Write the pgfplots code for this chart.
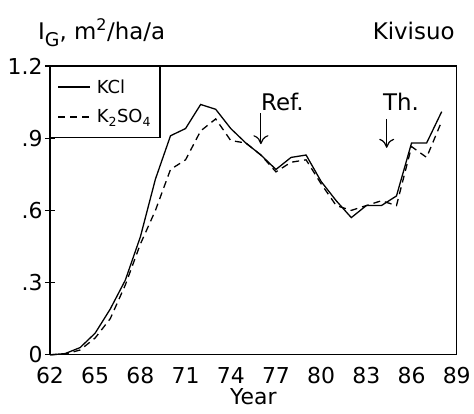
\documentclass[border=0pt]{standalone}
\usepackage{fontspec}
\setmainfont{DejaVu Sans}
\usepackage{pgfplots}
\pgfplotsset{compat=1.18}
\usetikzlibrary{arrows.meta}

\pgfplotstableread{
year  kcl
62 0.000
63 0.005
64 0.030
65 0.090
66 0.190
67 0.310
68 0.490
69 0.730
70 0.910
71 0.940
72 1.040
73 1.020
74 0.940
75 0.880
76 0.830
77 0.770
78 0.820
79 0.830
80 0.720
81 0.640
82 0.570
83 0.620
84 0.620
85 0.660
86 0.880
87 0.880
88 1.010
}\kcltab

\pgfplotstableread{
year  kso
62 0.000
63 0.003
64 0.020
65 0.070
66 0.150
67 0.290
68 0.460
69 0.600
70 0.770
71 0.810
72 0.930
73 0.980
74 0.890
75 0.880
76 0.830
77 0.760
78 0.800
79 0.810
80 0.710
81 0.620
82 0.600
83 0.620
84 0.640
85 0.620
86 0.865
87 0.820
88 0.970
}\ksotab

\begin{document}
\begin{tikzpicture}[x=1bp,y=1bp]
\begin{axis}[
  scale only axis, width=407bp, height=289bp,
  at={(0,0)}, anchor=south west,
  xmin=62, xmax=89, ymin=0, ymax=1.2,
  xtick={62,65,68,71,74,77,80,83,86,89},
  ytick={0,0.3,0.6,0.9,1.2},
  yticklabels={0,.3,.6,.9,1.2},
  ytick pos=left,
  xtick style={draw=none},
  tick align=center, major tick length=10bp,
  axis line style={line width=1.2bp},
  every tick/.style={black, line width=1.1bp},
  /pgf/number format/assume math mode=true,
  tick label style={font=\fontsize{22}{26}\selectfont},
  xticklabel style={yshift=-4bp},
  yticklabel style={xshift=1bp},
  xlabel={Year}, xlabel style={font=\fontsize{22}{26}\selectfont, yshift=2bp},
  legend style={at={(0,1)}, anchor=north west, draw=black, line width=1.1bp,
    font=\fontsize{18}{21}\selectfont, inner xsep=7bp, inner ysep=11bp,
    row sep=11bp, cells={anchor=west}},
  legend image code/.code={\draw[#1] (0bp,0bp) -- (32bp,0bp);},
  legend cell align=left,
  clip=false,
]
\addplot[black, line width=1.3bp] table[x=year, y=kcl] {\kcltab};
\addlegendentry{\hspace{4bp}KCl}
\addplot[black, line width=1.3bp, dash pattern=on 7bp off 5bp] table[x=year, y=kso] {\ksotab};
\addlegendentry{\hspace{4bp}K\textsubscript{2}SO\textsubscript{4}}
\draw[line width=1.2bp, -{To[length=9bp,width=15bp]}] (axis cs:76,1.003) -- (axis cs:76,0.875);
\node[anchor=base west, inner sep=0pt, font=\fontsize{23}{26}\selectfont] at (axis cs:76,1.017) {Ref.};
\draw[line width=1.2bp, -{To[length=9bp,width=15bp]}] (axis cs:84.35,0.98) -- (axis cs:84.35,0.86);
\node[anchor=base west, inner sep=0pt, font=\fontsize{23}{26}\selectfont] at (axis cs:84.1,1.017) {Th.};
\end{axis}
\node[anchor=base west, inner sep=0pt, font=\fontsize{23}{26}\selectfont] at (-12bp,315bp)
  {I\raisebox{-0.5ex}{\fontsize{19}{22}\selectfont G}, m\textsuperscript{2}/ha/a};
\node[anchor=base east, inner sep=0pt, font=\fontsize{23}{26}\selectfont] at (405bp,315bp) {Kivisuo};
\path[use as bounding box] (-50bp,-59bp) rectangle (424bp,355bp);
\end{tikzpicture}
\end{document}
